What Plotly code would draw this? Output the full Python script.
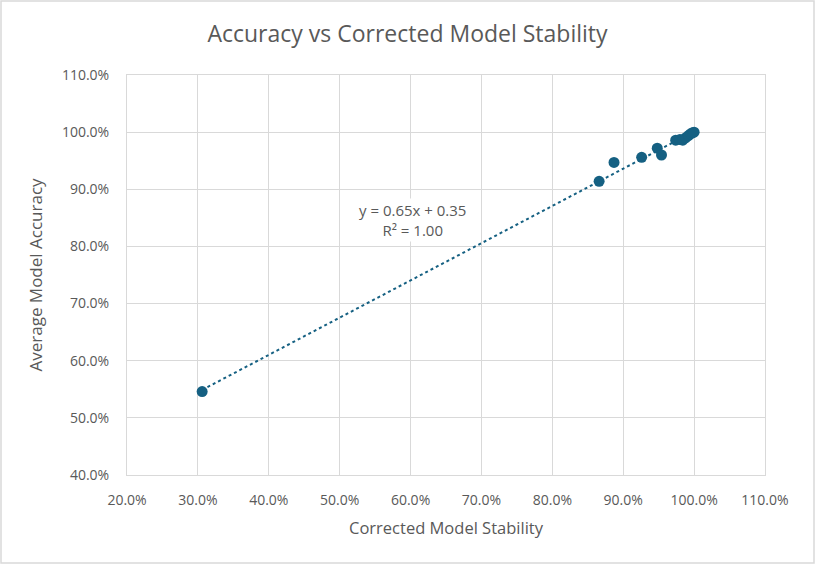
import numpy as np
import plotly.graph_objects as go

stability = [0.306, 0.866, 0.887, 0.926, 0.948, 0.954, 0.974, 0.980, 0.984, 0.988, 0.992, 0.995, 0.998, 1.000]
accuracy = [0.546, 0.914, 0.947, 0.956, 0.972, 0.960, 0.986, 0.987, 0.986, 0.990, 0.994, 0.997, 0.999, 1.000]

x_ticks = [0.2, 0.3, 0.4, 0.5, 0.6, 0.7, 0.8, 0.9, 1.0, 1.1]
y_ticks = [0.4, 0.5, 0.6, 0.7, 0.8, 0.9, 1.0, 1.1]

W, H = 815, 564
L, R, T, B = 127, 50, 75, 89
pw, ph = W - L - R, H - T - B

slope, intercept = np.polyfit(stability, accuracy, 1)
r2 = np.corrcoef(stability, accuracy)[0, 1] ** 2
tx = np.array([min(stability), max(stability)])
ty = slope * tx + intercept

grey = "#595959"
grid = "#d9d9d9"
font = "Open Sans"

fig = go.Figure()
fig.add_trace(go.Scatter(x=tx, y=ty, mode="lines",
                         line=dict(color="#156082", width=2, dash="dot"),
                         hoverinfo="skip", showlegend=False))
fig.add_trace(go.Scatter(x=stability, y=accuracy, mode="markers",
                         marker=dict(color="#156082", size=11),
                         showlegend=False))

fig.add_annotation(x=0.603, y=0.847, xref="x", yref="y",
                   text=f"y = {slope:.2f}x + {intercept:.2f}<br>R² = {r2:.2f}",
                   showarrow=False, bgcolor="white", font=dict(family=font, size=15, color=grey),
                   align="center")

fig.add_shape(type="rect", xref="paper", yref="paper",
              x0=-(L - 1) / pw, x1=1 + (R - 1) / pw,
              y0=-(B - 1) / ph, y1=1 + (T - 1) / ph,
              line=dict(color=grid, width=1.5), layer="below")

fig.update_layout(
    width=W, height=H,
    margin=dict(l=L, r=R, t=T, b=B),
    paper_bgcolor="white", plot_bgcolor="white",
    title=dict(text="Accuracy vs Corrected Model Stability", x=0.5, xanchor="center",
               y=1 - 34 / H, yanchor="middle",
               font=dict(family=font, size=23, color=grey)),
    xaxis=dict(range=[0.2, 1.1], tickvals=x_ticks, tickformat=".1%",
               showgrid=True, gridcolor=grid, gridwidth=1,
               showline=True, linecolor=grid, mirror=True, zeroline=False,
               ticks="", ticklen=0, ticklabelstandoff=12,
               tickfont=dict(family=font, size=14, color=grey),
               title=dict(text="Corrected Model Stability", standoff=14,
                          font=dict(family=font, size=16.5, color=grey))),
    yaxis=dict(range=[0.4, 1.1], tickvals=y_ticks, tickformat=".1%",
               showgrid=True, gridcolor=grid, gridwidth=1,
               showline=True, linecolor=grid, mirror=True, zeroline=False,
               ticks="", ticklen=0, ticklabelstandoff=14,
               tickfont=dict(family=font, size=14, color=grey),
               title=dict(text="Average Model Accuracy", standoff=14,
                          font=dict(family=font, size=17, color=grey))),
)

fig.write_html("out.html", config={"displayModeBar": False},
               post_script="document.body.style.margin='0';")
